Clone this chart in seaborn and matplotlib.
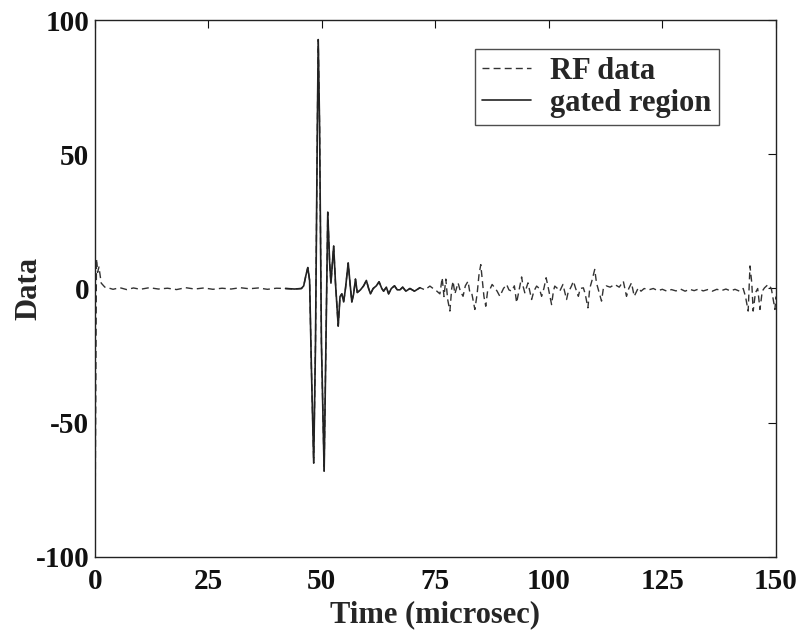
import numpy as np
import pandas as pd
import matplotlib
matplotlib.use('Agg')
import matplotlib.pyplot as plt
import seaborn as sns

# 读取的波形数据 (从图中估计)
time_us = [
    0.0, 0.1, 0.35, 0.6, 0.9, 1.4, 2.2, 3.0, 4.0, 5.5, 7.0, 8.5, 10.0, 12.0, 14.0,
    16.0, 18.0, 20.0, 22.0, 24.0, 26.0, 28.0, 30.0, 32.0, 34.0, 36.0, 38.0, 40.0,
    42.0, 44.0, 45.5,
    46.0, 46.5, 46.9, 47.3, 47.7, 48.2, 48.6, 49.0, 49.2, 49.5, 49.9, 50.5, 50.9,
    51.3, 51.7, 52.0, 52.6, 53.0, 53.6, 54.0, 54.4, 54.8, 55.2, 55.8, 56.2, 56.6,
    57.0, 57.4, 57.8, 58.5, 59.2, 59.8, 60.3, 60.7, 61.3, 62.0, 62.6, 63.2, 63.6,
    64.2, 64.7, 65.3, 66.0, 66.6, 67.2, 67.8, 68.5, 69.4, 70.4, 71.6, 72.7, 73.8,
    74.5, 75.2, 76.0, 76.5, 76.9, 77.3, 77.7, 78.2, 78.6, 78.9, 79.3, 80.0, 80.5,
    81.1, 81.6, 82.2, 82.6, 83.0, 83.7, 84.2, 84.6, 85.0, 85.4, 85.7, 86.1, 86.5,
    87.0, 87.5, 88.1, 88.6, 89.2, 90.0, 90.7, 91.2, 91.8, 92.4, 92.9, 93.4, 94.0,
    94.3, 94.7, 95.0, 95.4, 95.8, 96.2, 96.7, 97.3, 97.9, 98.4, 98.9, 99.4, 99.9,
    100.6, 101.0, 101.3, 101.9, 102.4, 103.1, 103.9, 104.3, 104.6, 105.0, 105.4,
    105.9, 106.5, 106.9, 107.6, 108.0, 108.6, 109.0, 109.5, 110.1, 110.5, 110.9,
    111.6, 112.0, 112.6, 113.5, 114.5, 115.5, 116.4, 117.1, 117.6, 118.2, 118.8,
    119.7, 120.3, 121.0, 122.0, 123.0, 124.0, 125.0, 126.0, 127.0, 128.0, 129.0,
    130.0, 131.0, 132.0, 133.0, 134.0, 135.0, 136.0, 137.0, 138.0, 139.0, 140.0,
    141.0, 142.0, 142.8, 143.3, 143.9, 144.3, 144.7, 145.0, 145.5, 146.0, 146.5,
    147.0, 147.5, 148.3, 149.0, 149.8, 150.0,
]
rf_data = [
    10.0, -70.0, 11.0, 6.0, 8.0, 2.0, 0.5, 0.2, -0.3, 0.3, -0.4, 0.2, -0.3, 0.3, -0.2,
    0.1, -0.4, 0.3, -0.2, 0.2, -0.3, 0.1, -0.2, 0.3, -0.1, 0.2, -0.3, 0.1,
    0.0, -0.2, 0.0,
    1.0, 5.0, 7.8, 3.0, -30.0, -65.0, -20.0, 60.0, 92.7, 60.0, -20.0, -68.0, -20.0,
    28.4, 10.0, 2.0, 15.8, 2.0, -14.0, -3.0, -2.0, -5.0, 0.0, 9.5, 2.0, -5.0,
    -2.0, 3.5, -1.5, -0.5, 1.0, 3.0, 0.0, -2.0, 0.0, 1.0, 2.5, 0.0, -1.0,
    0.5, -2.0, 0.0, 1.0, -0.5, -0.5, 0.5, -1.0, 0.0, -1.0, 0.3, -0.5, 0.9,
    0.0, -0.8, -2.0, 4.0, -3.0, 3.5, -4.0, -8.4, 0.0, 2.7, -2.0, 2.1, -1.0,
    -2.9, 1.0, 2.7, -1.6, -1.6, -7.8, -2.0, 5.0, 8.9, 2.1, -3.0, -6.6, -1.0,
    -0.4, 1.5, 0.25, -1.0, -2.9, 0.0, 1.5, -0.5, -1.0, 1.0, -5.3, -1.0, 4.3,
    1.0, -1.6, 0.0, 2.1, -1.0, -4.1, -1.0, 0.9, 0.0, -2.9, 0.0, 4.0, 0.0,
    -6.0, -1.0, 0.9, 0.0, -1.0, 1.5, -4.1, -1.0, -0.4, 1.0, 2.7,
    0.0, -2.9, 0.0, 0.25, -2.0, -7.2, 0.0, 3.0, 7.1, 2.0, -0.4,
    -4.7, 0.0, 1.0, 0.5, 1.5, 0.5, 2.7, -2.9, 0.0, 2.1, -2.9,
    0.25, -1.0, 0.0, -0.5, 0.0, -0.8, -0.3, -1.0, -0.4, -0.9, -0.2,
    -1.0, -0.3, -0.8, -0.2, -0.9, -0.4, -1.0, -0.3, -0.8, -0.2, -0.9,
    -0.3, -1.0, 0.0, -2.9, -8.4, 8.4, 2.0, -8.4, -1.6, 0.0, -7.8,
    -1.0, 0.25, 1.5, 0.0, -7.8, -3.0,
]

gate_start = 42.0
gate_end = 72.0

x_ticks = [0, 25, 50, 75, 100, 125, 150]
y_ticks = [-100, -50, 0, 50, 100]

df = pd.DataFrame({'t': time_us, 'v': rf_data})
gated = df[(df['t'] >= gate_start) & (df['t'] <= gate_end)]

sns.set_style('white')
plt.rcParams['font.family'] = ['Liberation Serif', 'DejaVu Serif']
plt.rcParams['font.weight'] = 'bold'
plt.rcParams['axes.unicode_minus'] = False

fig = plt.figure(figsize=(8.04, 6.37), dpi=100)
ax = fig.add_axes([0.118, 0.1256, 0.847, 0.843])

sns.lineplot(data=df, x='t', y='v', ax=ax, color='#333333', lw=1.0,
             linestyle='--', estimator=None, sort=False, label='RF data')
ax.lines[-1].set_dashes((5, 3))
sns.lineplot(data=gated, x='t', y='v', ax=ax, color='#222222', lw=1.2,
             estimator=None, sort=False, label='gated region')

ax.set_xlim(0, 150)
ax.set_ylim(-100, 100)
ax.set_xticks(x_ticks)
ax.set_yticks(y_ticks)
ax.tick_params(direction='in', length=6, width=0.8, top=True, right=True,
               labelsize=21, colors='#111111')
ax.tick_params(axis='x', pad=8)
ax.tick_params(axis='y', pad=4)
for lab in ax.get_xticklabels() + ax.get_yticklabels():
    lab.set_fontweight('bold')
for sp in ax.spines.values():
    sp.set_linewidth(1.0)
    sp.set_color('#222222')

ax.set_xlabel('Time (microsec)', fontsize=22, fontweight='bold', labelpad=4)
ax.set_ylabel('Data', fontsize=22, fontweight='bold')
ax.yaxis.set_label_coords(-0.076, 0.5)

leg = ax.legend(loc='upper right', bbox_to_anchor=(0.916, 0.946), borderaxespad=0,
                fontsize=22, frameon=True, fancybox=False, handlelength=1.6,
                borderpad=0.25, labelspacing=0.1, handletextpad=0.6)
leg.get_frame().set_edgecolor('#222222')
leg.get_frame().set_linewidth(1.0)
for txt in leg.get_texts():
    txt.set_fontweight('bold')

fig.savefig('out.png', dpi=100)
